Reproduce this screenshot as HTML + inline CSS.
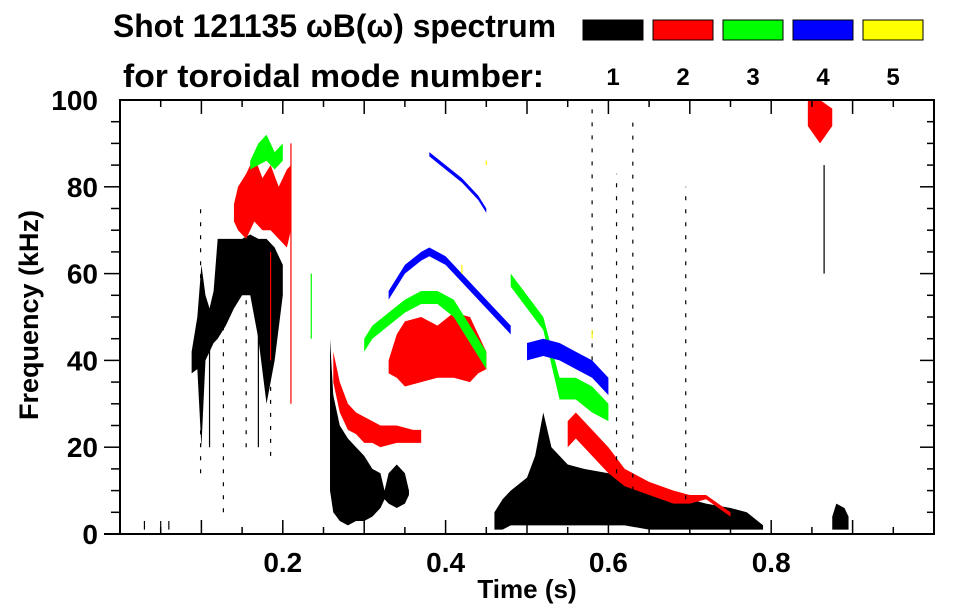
<!DOCTYPE html>
<html><head><meta charset="utf-8"><style>
body{margin:0;background:#fff;}
svg{display:block;font-family:"Liberation Sans",sans-serif;font-weight:bold;}
</style></head><body>
<svg id="chart" width="963" height="615" viewBox="0 0 963 615">
<text x="113" y="37" font-size="32" textLength="443" lengthAdjust="spacingAndGlyphs">Shot 121135 ωB(ω) spectrum</text>
<text x="123" y="87" font-size="32" textLength="421" lengthAdjust="spacingAndGlyphs">for toroidal mode number:</text>
<g id="legend"></g>
<g id="marks"></g>
<g id="axes"></g>
<text x="527" y="598" font-size="26" text-anchor="middle">Time (s)</text>
<text transform="translate(38,315) rotate(-90)" font-size="27" text-anchor="middle">Frequency (kHz)</text>
</svg>
<script>
const modeNums=[1,2,3,4,5];
const modeColors=["#000000","#ff0000","#00ff00","#0000ff","#ffff00"];
const xTicks=[0.2,0.4,0.6,0.8];
const yTicks=[0,20,40,60,80,100];
const blackMainT=[0.088,0.095,0.10,0.105,0.11,0.115,0.12,0.13,0.14,0.15,0.16,0.17,0.18,0.19,0.2];
const blackMainHi=[42,50,62,55,52,56,68,68,68,68,69,68,68,66,62];
const blackMainLo=[37,38,20,40,42,44,45,48,52,55,55,45,30,40,55];
const blackLowT=[0.258,0.262,0.27,0.28,0.29,0.3,0.31,0.32,0.325,0.33,0.34,0.35,0.355];
const blackLowHi=[45,32,25,22,20,18,15,14,10,14,16,14,10];
const blackLowLo=[10,5,3,2,3,3,4,6,8,7,6,7,9];
const blackLateT=[0.46,0.47,0.48,0.5,0.51,0.52,0.53,0.55,0.57,0.6,0.62,0.65,0.67,0.7,0.72,0.75,0.77,0.79];
const blackLateHi=[5,8,10,13,18,28,20,16,15,14,12,10,9,8,7,6,5,2];
const blackLateLo=[1,1,2,2,2,2,2,2,2,2,2,1,1,1,1,1,1,1];
const blackEndT=[0.875,0.88,0.89,0.895];
const blackEndHi=[4,7,6,4];
const blackEndLo=[1,1,1,1];
const redHighT=[0.14,0.145,0.155,0.165,0.175,0.185,0.195,0.205,0.21];
const redHighHi=[76,80,83,87,82,85,80,84,85];
const redHighLo=[72,70,68,72,70,70,68,66,70];
const redChirpT=[0.262,0.27,0.28,0.29,0.3,0.31,0.32,0.34,0.36,0.37];
const redChirpHi=[42,35,30,28,27,26,25,25,24,24];
const redChirpLo=[35,28,24,23,21,21,20,21,21,21];
const redBlobT=[0.33,0.34,0.35,0.37,0.39,0.41,0.43,0.44,0.45];
const redBlobHi=[40,46,49,50,48,51,50,46,42];
const redBlobLo=[37,36,34,35,36,36,35,37,38];
const redLateT=[0.55,0.56,0.58,0.6,0.62,0.65,0.68,0.7,0.72,0.75];
const redLateHi=[26,28,24,20,15,12,10,9,9,5];
const redLateLo=[20,22,18,14,11,9,7,7,8,4];
const redTopT=[0.845,0.86,0.875];
const redTopHi=[100,100,98];
const redTopLo=[94,90,94];
const greenTopT=[0.16,0.17,0.18,0.19,0.2];
const greenTopHi=[86,90,92,88,90];
const greenTopLo=[84,85,86,84,86];
const greenArcT=[0.3,0.31,0.33,0.35,0.37,0.39,0.41,0.43,0.45];
const greenArcHi=[45,48,51,54,56,56,54,48,42];
const greenArcLo=[42,45,48,51,53,53,50,44,38];
const greenLateT=[0.48,0.5,0.52,0.54,0.56,0.58,0.6];
const greenLateHi=[60,55,50,36,36,34,30];
const greenLateLo=[57,52,47,31,31,28,26];
const blueTopT=[0.38,0.4,0.42,0.44,0.45];
const blueTopHi=[88,85,82,78,75];
const blueTopLo=[87,84,81,77,74];
const blueArcT=[0.33,0.35,0.37,0.38,0.4,0.42,0.44,0.46,0.48];
const blueArcHi=[56,62,65,66,64,60,56,52,48];
const blueArcLo=[54,60,63,64,62,58,54,50,46];
const blueLateT=[0.5,0.52,0.54,0.56,0.58,0.6];
const blueLateHi=[44,45,44,42,40,36];
const blueLateLo=[40,41,40,38,36,32];
const streakMode=[0,0,0,0,0,0,0,0,0,0,0,0,1,1,2,4,4,4,0,0];
const streakTime=[0.099,0.11,0.127,0.155,0.17,0.185,0.61,0.63,0.695,0.865,0.58,0.05,0.21,0.185,0.235,0.42,0.45,0.58,0.03,0.06];
const streakLo=[14,20,5,20,20,18,5,10,5,60,40,1.5,30,40,45,60,85,45,1,1];
const streakHi=[75,50,60,60,55,60,83,95,80,85,98,3,90,65,60,62,86,47,3,3];

const X0=120,X1=934,Y0=534,Y1=100;
const sx=t=>X0+t*(X1-X0);
const sy=f=>Y0-f*(Y0-Y1)/100;
const NS="http://www.w3.org/2000/svg";
const marks=document.getElementById('marks');
const bands=[
 [0,blackMainT,blackMainHi,blackMainLo],[0,blackLowT,blackLowHi,blackLowLo],[0,blackLateT,blackLateHi,blackLateLo],[0,blackEndT,blackEndHi,blackEndLo],
 [1,redHighT,redHighHi,redHighLo],[1,redChirpT,redChirpHi,redChirpLo],[1,redBlobT,redBlobHi,redBlobLo],[1,redLateT,redLateHi,redLateLo],[1,redTopT,redTopHi,redTopLo],
 [2,greenTopT,greenTopHi,greenTopLo],[2,greenArcT,greenArcHi,greenArcLo],[2,greenLateT,greenLateHi,greenLateLo],
 [3,blueTopT,blueTopHi,blueTopLo],[3,blueArcT,blueArcHi,blueArcLo],[3,blueLateT,blueLateHi,blueLateLo]];
bands.forEach(b=>{
 const [m,T,H,L]=b;
 let pts=T.map((t,i)=>sx(t)+','+sy(H[i]));
 for(let i=T.length-1;i>=0;i--)pts.push(sx(T[i])+','+sy(L[i]));
 const p=document.createElementNS(NS,'polygon');
 p.setAttribute('points',pts.join(' '));
 p.setAttribute('fill',modeColors[m]);
 
 
 marks.appendChild(p);
});
streakTime.forEach((t,i)=>{
 const l=document.createElementNS(NS,'line');
 l.setAttribute('x1',sx(t));l.setAttribute('x2',sx(t));
 l.setAttribute('y1',sy(streakLo[i]));l.setAttribute('y2',sy(streakHi[i]));
 l.setAttribute('stroke',modeColors[streakMode[i]]);
 l.setAttribute('stroke-width',1.2);
 if(streakHi[i]-streakLo[i]>35&&streakMode[i]===0)l.setAttribute('stroke-dasharray','4 9');
 
 
 marks.appendChild(l);
});
const ax=document.getElementById('axes');
function add(tag,attrs,name){const e=document.createElementNS(NS,tag);for(const k in attrs)e.setAttribute(k,attrs[k]);
 
 
 ax.appendChild(e);return e;}
add('rect',{x:X0,y:Y1,width:X1-X0,height:Y0-Y1,fill:'none',stroke:'#000','stroke-width':2},'plot-frame');
add('line',{x1:104,x2:X0,y1:Y0,y2:Y0,stroke:'#000','stroke-width':2},'y-axis-extension');
for(let t=0.05;t<1;t+=0.05){const maj=Math.abs(t*10-Math.round(t*10))<1e-6;const len=maj?14:7;
 add('line',{x1:sx(t),x2:sx(t),y1:Y0,y2:Y0-len,stroke:'#000','stroke-width':1.5},'x-tick');
 add('line',{x1:sx(t),x2:sx(t),y1:Y1,y2:Y1+len,stroke:'#000','stroke-width':1.5},'x-tick-top');}
for(let f=5;f<100;f+=5){const maj=f%20===0;const len=maj?14:7;
 add('line',{x1:X0,x2:X0-len-2,y1:sy(f),y2:sy(f),stroke:'#000','stroke-width':1.5},'y-tick');
 add('line',{x1:X1,x2:X1-len,y1:sy(f),y2:sy(f),stroke:'#000','stroke-width':1.5},'y-tick-right');}
xTicks.forEach(t=>{const e=add('text',{x:sx(t),y:572,'font-size':28,'text-anchor':'middle'},'x-tick-label');e.textContent=t.toFixed(1);});
yTicks.forEach(f=>{const e=add('text',{x:98,y:sy(f)+10,'font-size':28,'text-anchor':'end'},'y-tick-label');e.textContent=f;});
const lg=document.getElementById('legend');
modeNums.forEach((n,i)=>{
 const r=document.createElementNS(NS,'rect');
 r.setAttribute('x',583+i*70);r.setAttribute('y',20);r.setAttribute('width',60);r.setAttribute('height',20);
 r.setAttribute('fill',modeColors[i]);r.setAttribute('stroke','#000');r.setAttribute('stroke-width',1);
 
 
 lg.appendChild(r);
 const t=document.createElementNS(NS,'text');
 t.setAttribute('x',613+i*70);t.setAttribute('y',85);t.setAttribute('font-size',24);t.setAttribute('text-anchor','middle');
 t.textContent=n;
 
 
 lg.appendChild(t);
});
</script>
</body></html>
